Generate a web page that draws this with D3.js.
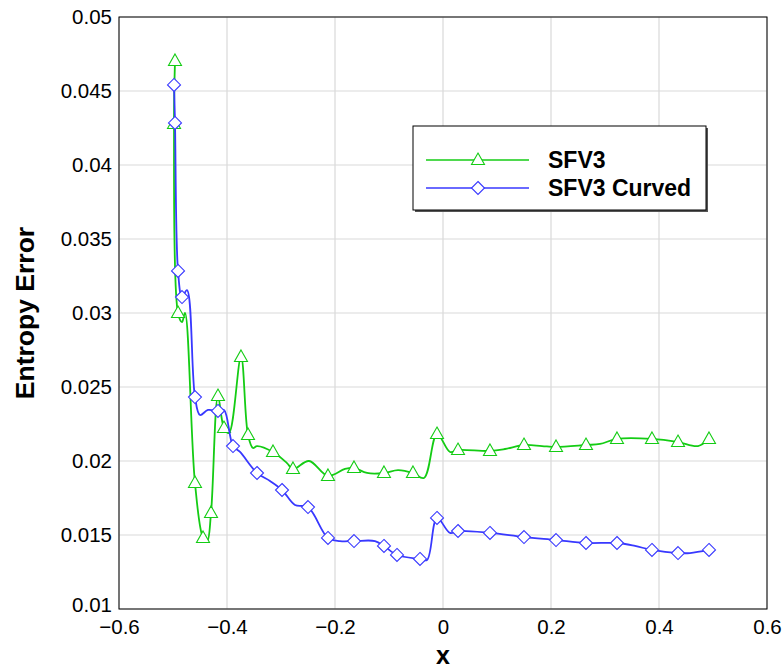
<!DOCTYPE html>
<html>
<head>
<meta charset="utf-8">
<script src="https://cdn.jsdelivr.net/npm/d3@7"></script>
<style>
  body { margin: 0; background: #fff; }
  svg { font-family: "Liberation Sans", Arial, sans-serif; }
</style>
</head>
<body>
<div id="chart"></div>
<script>
// SFV3 (triangles) - line points, markers at sfv3Marks indices
const sfv3X = [-0.4963, -0.4981, -0.4907, -0.4833, -0.4778, -0.4593, -0.4444, -0.4370, -0.4296, -0.4167,
  -0.4056, -0.3963, -0.3741, -0.3611, -0.3519, -0.3444, -0.3148, -0.2889, -0.2778, -0.2481,
  -0.2130, -0.1815, -0.1648, -0.1407, -0.1093, -0.0833, -0.0556, -0.0352, -0.0111, 0.0130,
  0.0278, 0.0870, 0.1148, 0.1500, 0.1833, 0.2093, 0.2648, 0.2907, 0.3222, 0.3870,
  0.4352, 0.4722, 0.4926];
const sfv3Y = [0.04703, 0.04277, 0.03000, 0.02939, 0.03000, 0.01851, 0.01480, 0.01453, 0.01649, 0.02439,
  0.02223, 0.02189, 0.02703, 0.02176, 0.02088, 0.02101, 0.02061, 0.01986, 0.01946, 0.02000,
  0.01899, 0.01946, 0.01953, 0.01919, 0.01919, 0.01939, 0.01919, 0.01885, 0.02182, 0.02061,
  0.02074, 0.02068, 0.02081, 0.02108, 0.02101, 0.02095, 0.02108, 0.02115, 0.02149, 0.02149,
  0.02128, 0.02101, 0.02149];
const sfv3Marks = [0, 1, 2, 5, 6, 8, 9, 10, 12, 13, 16, 18, 20, 22, 24, 26, 28, 30, 31, 33, 35, 36, 38, 39, 40, 42];

// SFV3 Curved (diamonds)
const curvedX = [-0.4981, -0.4963, -0.4907, -0.4833, -0.4741, -0.4593, -0.4500, -0.4352, -0.4167, -0.4056,
  -0.3889, -0.3759, -0.3444, -0.3204, -0.2981, -0.2741, -0.2500, -0.2130, -0.1907, -0.1648,
  -0.1259, -0.1093, -0.0852, -0.0426, -0.0296, -0.0111, 0.0130, 0.0278, 0.0870, 0.1500,
  0.2093, 0.2648, 0.3222, 0.3556, 0.3870, 0.4352, 0.4574, 0.4926];
const curvedY = [0.04541, 0.04284, 0.03284, 0.03108, 0.03155, 0.02432, 0.02311, 0.02345, 0.02338, 0.02345,
  0.02101, 0.02061, 0.01919, 0.01865, 0.01804, 0.01703, 0.01689, 0.01480, 0.01459, 0.01459,
  0.01459, 0.01426, 0.01365, 0.01338, 0.01331, 0.01615, 0.01514, 0.01527, 0.01514, 0.01486,
  0.01466, 0.01446, 0.01446, 0.01426, 0.01399, 0.01378, 0.01378, 0.01399];
const curvedMarks = [0, 1, 2, 3, 5, 8, 10, 12, 14, 16, 17, 19, 21, 22, 23, 25, 27, 28, 29, 30, 31, 32, 34, 35, 37];

const xTicks = [-0.6, -0.4, -0.2, 0, 0.2, 0.4, 0.6];
const yTicks = [0.01, 0.015, 0.02, 0.025, 0.03, 0.035, 0.04, 0.045, 0.05];
const seriesNames = ['SFV3', 'SFV3 Curved'];

const W = 784, H = 668;
const margin = { top: 17, right: 17, bottom: 59, left: 119 };
const width = W - margin.left - margin.right;
const height = H - margin.top - margin.bottom;

const svg = d3.select('#chart').append('svg')
  .attr('width', W)
  .attr('height', H);
const g = svg.append('g')
  .attr('transform', `translate(${margin.left},${margin.top})`);

const x = d3.scaleLinear().domain([-0.6, 0.6]).range([0, width]);
const y = d3.scaleLinear().domain([0.01, 0.05]).range([height, 0]);

// grid
g.append('g').selectAll('line').data(xTicks).join('line')
  .attr('x1', d => x(d)).attr('x2', d => x(d))
  .attr('y1', 0).attr('y2', height)
  .attr('stroke', '#d9d9d9').attr('stroke-width', 1.2);
g.append('g').selectAll('line').data(yTicks).join('line')
  .attr('x1', 0).attr('x2', width)
  .attr('y1', d => y(d)).attr('y2', d => y(d))
  .attr('stroke', '#d9d9d9').attr('stroke-width', 1.2);

// axes (labels only, frame drawn separately)
const xAxis = g.append('g')
  .attr('transform', `translate(0,${height})`)
  .call(d3.axisBottom(x).tickValues(xTicks).tickSize(0).tickPadding(10).tickFormat(d => d3.format('')(d)));
const yAxis = g.append('g')
  .call(d3.axisLeft(y).tickValues(yTicks).tickSize(0).tickPadding(7).tickFormat(d => d3.format('')(+d.toFixed(3))));
[xAxis, yAxis].forEach(a => {
  a.select('.domain').remove();
  a.selectAll('text').attr('font-size', 20.5).attr('font-family', '"Liberation Sans", Arial, sans-serif').attr('fill', '#000');
});
yAxis.selectAll('text').filter(d => d === 0.01).attr('dy', '0.1em');

g.append('rect')
  .attr('width', width).attr('height', height)
  .attr('fill', 'none').attr('stroke', '#000').attr('stroke-width', 1);

// titles
svg.append('text')
  .attr('x', margin.left + x(0)).attr('y', 664)
  .attr('text-anchor', 'middle')
  .attr('font-size', 25).attr('font-weight', 'bold')
  .text('x');
svg.append('text')
  .attr('transform', `translate(34,${margin.top + height / 2}) rotate(-90)`)
  .attr('text-anchor', 'middle')
  .attr('font-size', 26.5).attr('font-weight', 'bold')
  .text('Entropy Error');

const green = '#14cc14', blue = '#3838ff';
const line = d3.line().curve(d3.curveCatmullRom.alpha(0.5));
const tri = 'M0,-7L6.5,4.5L-6.5,4.5Z';
const dia = 'M0,-6.5L6.5,0L0,6.5L-6.5,0Z';

function drawSeries(xs, ys, marks, color, shape) {
  const pts = xs.map((d, i) => [x(d), y(ys[i])]);
  g.append('path')
    .attr('d', line(pts))
    .attr('fill', 'none').attr('stroke', color).attr('stroke-width', 1.8);
  g.append('g').selectAll('path').data(marks).join('path')
    .attr('d', shape)
    .attr('transform', i => `translate(${pts[i][0]},${pts[i][1]})`)
    .attr('fill', '#fff').attr('stroke', color).attr('stroke-width', 1.1);
}
drawSeries(sfv3X, sfv3Y, sfv3Marks, green, tri);
drawSeries(curvedX, curvedY, curvedMarks, blue, dia);

// legend
const lg = svg.append('g').attr('transform', 'translate(413,126)');
lg.append('rect').attr('x', 2).attr('y', 2).attr('width', 293).attr('height', 84).attr('fill', '#555');
lg.append('rect').attr('width', 293).attr('height', 84).attr('fill', '#fff').attr('stroke', '#000').attr('stroke-width', 1);
const legendItems = [
  { name: seriesNames[0], color: green, shape: tri },
  { name: seriesNames[1], color: blue, shape: dia }
];
legendItems.forEach((it, i) => {
  const ly = 34 + i * 28;
  lg.append('line').attr('x1', 13).attr('x2', 116).attr('y1', ly).attr('y2', ly)
    .attr('stroke', it.color).attr('stroke-width', 1.5);
  lg.append('path').attr('d', it.shape).attr('transform', `translate(65,${ly})`)
    .attr('fill', '#fff').attr('stroke', it.color).attr('stroke-width', 1.1);
  lg.append('text').attr('x', 135).attr('y', ly + 8)
    .attr('font-size', 23).attr('font-weight', 'bold')
    .text(it.name);
});
</script>
</body>
</html>
